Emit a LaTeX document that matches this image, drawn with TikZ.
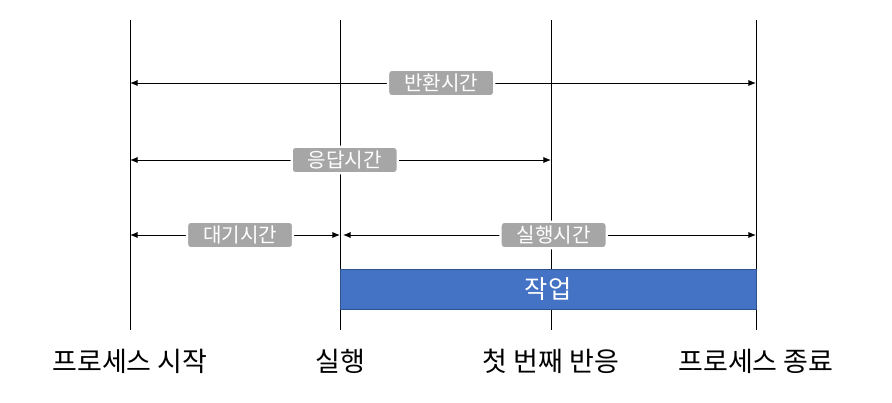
\documentclass[tikz,border=0pt]{standalone}
\usepackage{fontspec}
\setmainfont{Noto Sans CJK KR}
\usetikzlibrary{arrows.meta,positioning}
\definecolor{LabelGray}{RGB}{166,166,166}
\definecolor{TaskBlue}{RGB}{68,114,196}
\definecolor{TaskEdge}{RGB}{47,82,143}

\begin{document}
\begin{tikzpicture}[x=0.025cm,y=-0.025cm,>={Latex[length=5.5pt,width=4.5pt]},
    span/.style={<->,line width=0.7pt},
    timelabel/.style={fill=LabelGray,text=white,draw=white,line width=1.6pt,
      rounded corners=2.5pt,minimum width=2.65cm,minimum height=0.66cm,inner sep=0pt,
      font=\fontsize{14.3}{15}\selectfont},
    event/.style={font=\fontsize{19.2}{21}\selectfont,inner sep=0pt}]
  \useasboundingbox (0,0) rectangle (892,402);

  % event lines
  \foreach \n/\x in {start/130,run/340,first/551,stop/756} {
    \coordinate (\n top) at (\x,20);
    \coordinate (\n bot) at (\x,330);
    \draw[line width=0.7pt] (\n top) -- (\n bot);
  }

  % task bar
  \node[fill=TaskBlue,draw=TaskEdge,line width=0.6pt,minimum width=10.4cm,
    minimum height=1cm,inner sep=0pt,text=white,font=\fontsize{18}{19}\selectfont]
    (task) at (548,289) {작업};

  % span ends
  \coordinate (turnL) at (130,83);   \coordinate (turnR) at (756,83);
  \coordinate (respL) at (130,160);  \coordinate (respR) at (551,160);
  \coordinate (waitL) at (130,235);  \coordinate (waitR) at (340,235);
  \coordinate (execL) at (343,235);  \coordinate (execR) at (756,235);

  \draw[span] (turnL) -- (turnR) node[timelabel,pos=0.497] (turn) {반환시간};
  \draw[span] (respL) -- (respR) node[timelabel,pos=0.51] (resp) {응답시간};
  \draw[span] (waitL) -- (waitR) node[timelabel,pos=0.524] (wait) {대기시간};
  \draw[span] (execL) -- (execR) node[timelabel,pos=0.51] (exec) {실행시간};

  % event names
  \node[event] (startlbl) at (130,361) {프로세스 시작};
  \node[event] (runlbl)   at (340,361) {실행};
  \node[event] (firstlbl) at (551,361) {첫 번째 반응};
  \node[event] (stoplbl)  at (756,361) {프로세스 종료};
\end{tikzpicture}
\end{document}
